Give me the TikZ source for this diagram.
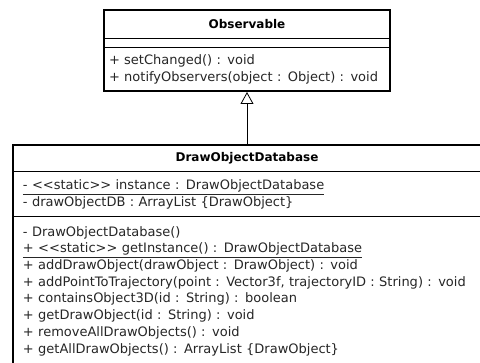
\documentclass[tikz,border=0pt]{standalone}
\usepackage{fontspec}
\newfontfamily\umlfont{DejaVu Sans}[Ligatures=TeXOff]
\usetikzlibrary{positioning,arrows.meta}

\tikzstyle{compartment}=[rectangle,draw=black,line width=1pt,inner sep=0pt,outer sep=0pt,fill=white]
\tikzstyle{classname}=[compartment,font=\umlfont\fontsize{12}{14}\selectfont\bfseries]
\tikzstyle{members}=[compartment,align=left,text=black!85,font=\umlfont\fontsize{13}{16.7}\selectfont]
\tikzstyle{outline}=[line width=2pt]

\begin{document}
\begin{tikzpicture}[x=1pt,y=-1pt]
\useasboundingbox (0,0) rectangle (480,363);
\clip (0,0) rectangle (480,363);
% superclass
\node(obsTitle)[classname,minimum width=286pt,minimum height=29pt] at (247,24.5){Observable};
\node(obsAttr)[compartment,minimum width=286pt,minimum height=9pt,below=0pt of obsTitle]{};
\node(obsOps)[members,minimum width=286pt,minimum height=43pt,inner xsep=5pt,text width=276pt,below=0pt of obsAttr]{+ setChanged() : void\\+ notifyObservers(object : Object) : void};
\draw[outline](obsTitle.north west) rectangle (obsOps.south east);
% subclass
\node(dbTitle)[classname,minimum width=468pt,minimum height=27pt] at (247,158.5){DrawObjectDatabase};
\node(dbAttr)[members,minimum width=468pt,minimum height=45pt,inner xsep=10pt,text width=448pt,below=0pt of dbTitle]{\underline{- <<static>> instance : DrawObjectDatabase}\\- drawObjectDB : ArrayList \{DrawObject\}};
\node(dbOps)[members,minimum width=468pt,minimum height=148pt,inner xsep=10pt,text width=448pt,below=0pt of dbAttr]{- DrawObjectDatabase()\\\underline{+ <<static>> getInstance() : DrawObjectDatabase}\\+ addDrawObject(drawObject : DrawObject) : void\\+ addPointToTrajectory(point : Vector3f, trajectoryID : String) : void\\+ containsObject3D(id : String) : boolean\\+ getDrawObject(id : String) : void\\+ removeAllDrawObjects() : void\\+ getAllDrawObjects() : ArrayList \{DrawObject\}};
\draw[outline](dbTitle.north west) rectangle (dbOps.south east);
% generalization
\draw[-{Triangle[open,length=12pt,width=13pt]},line width=0.8pt,shorten >=1pt](dbTitle.north)--(obsOps.south);
\end{tikzpicture}
\end{document}
